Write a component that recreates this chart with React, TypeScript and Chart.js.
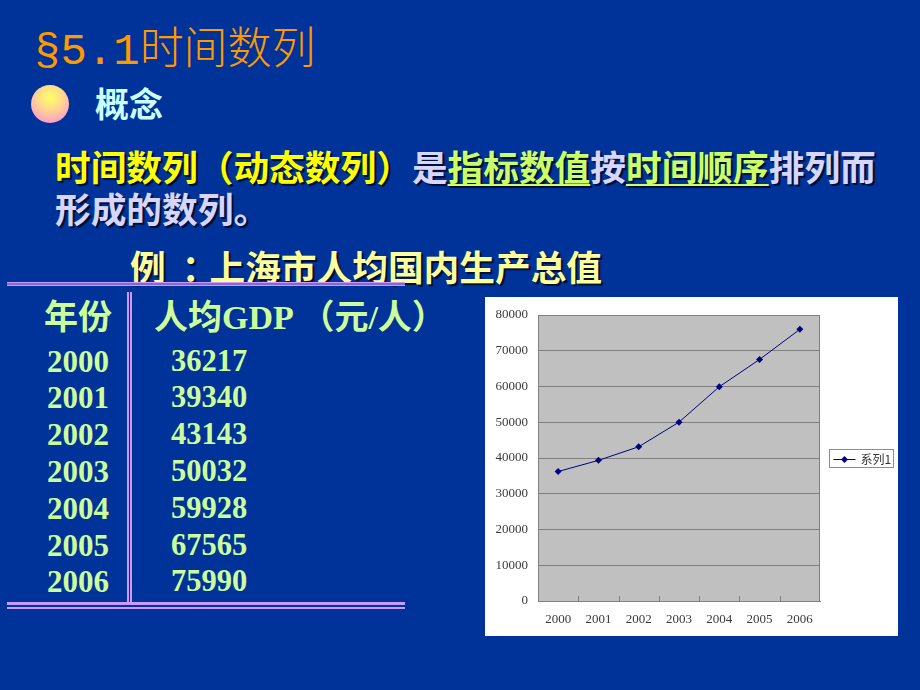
import React, { useEffect, useRef } from "react";
import { Chart, registerables } from "chart.js";

Chart.register(...registerables);

// ---- data ----
const years = ["2000", "2001", "2002", "2003", "2004", "2005", "2006"];
const gdpValues = [36217, 39340, 43143, 50032, 59928, 67565, 75990];
const seriesLabel = "系列1";
const yMin = 0;
const yMax = 80000;
const yStep = 10000;

const CJK = '"Noto Sans CJK SC", "Noto Sans", sans-serif';
const SERIF = '"Liberation Serif", "DejaVu Serif", serif';

const bgPlugin = {
  id: "excelBg",
  beforeDraw(chart: any) {
    const { ctx, chartArea, width, height } = chart;
    ctx.save();
    ctx.fillStyle = "#ffffff";
    ctx.fillRect(0, 0, width, height);
    ctx.fillStyle = "#c0c0c0";
    ctx.fillRect(chartArea.left, chartArea.top, chartArea.right - chartArea.left, chartArea.bottom - chartArea.top);
    ctx.restore();
  },
  beforeDatasetsDraw(chart: any) {
    const { ctx, chartArea } = chart;
    const xs = chart.scales.x;
    ctx.save();
    ctx.strokeStyle = "#808080";
    ctx.lineWidth = 1;
    ctx.strokeRect(chartArea.left + 0.5, chartArea.top + 0.5, chartArea.right - chartArea.left - 1, chartArea.bottom - chartArea.top);
    for (let i = 0; i < years.length - 1; i++) {
      const x = Math.round((xs.getPixelForValue(i) + xs.getPixelForValue(i + 1)) / 2) + 0.5;
      ctx.beginPath();
      ctx.moveTo(x, chartArea.bottom);
      ctx.lineTo(x, chartArea.bottom - 5);
      ctx.stroke();
    }
    ctx.restore();
  },
};

const legendPlugin = {
  id: "excelLegend",
  afterDraw(chart: any) {
    const { ctx } = chart;
    const ds = chart.data.datasets[0];
    const bx = 344.5, by = 152.5, bw = 64, bh = 18;
    ctx.save();
    ctx.strokeStyle = "#8c8c8c";
    ctx.lineWidth = 1;
    ctx.strokeRect(bx, by, bw, bh);
    const ly = by + bh / 2 + 1;
    ctx.strokeStyle = ds.borderColor;
    ctx.beginPath();
    ctx.moveTo(bx + 4, ly);
    ctx.lineTo(bx + 26, ly);
    ctx.stroke();
    ctx.fillStyle = ds.borderColor;
    const mx = bx + 15, r = 3.5;
    ctx.beginPath();
    ctx.moveTo(mx, ly - r);
    ctx.lineTo(mx + r, ly);
    ctx.lineTo(mx, ly + r);
    ctx.lineTo(mx - r, ly);
    ctx.closePath();
    ctx.fill();
    ctx.fillStyle = "#333333";
    ctx.font = `12px ${CJK}`;
    ctx.textBaseline = "middle";
    ctx.fillText(ds.label, bx + 31, ly - 0.5);
    ctx.restore();
  },
};

function GdpChart() {
  const ref = useRef<HTMLCanvasElement | null>(null);
  useEffect(() => {
    if (!ref.current) return;
    const tickFont = { family: SERIF, size: 13 };
    const chart = new Chart(ref.current, {
      type: "line",
      data: {
        labels: years,
        datasets: [
          {
            label: seriesLabel,
            data: gdpValues,
            borderColor: "#000080",
            backgroundColor: "#000080",
            borderWidth: 1,
            pointStyle: "rectRot",
            pointRadius: 3.5,
            pointBackgroundColor: "#000080",
            pointBorderColor: "#000080",
            pointBorderWidth: 0,
            tension: 0,
          },
        ],
      },
      options: {
        animation: false,
        responsive: false,
        maintainAspectRatio: false,
        layout: { padding: { left: 0, top: 18, right: 78, bottom: 0 } },
        plugins: { legend: { display: false }, tooltip: { enabled: false } },
        scales: {
          x: {
            offset: true,
            grid: { display: false, drawTicks: false },
            border: { display: true, color: "#808080", width: 1 },
            ticks: { font: tickFont, color: "#3a3a3a", padding: 11, maxRotation: 0 },
            afterFit: (s: any) => {
              s.height = 35;
            },
          },
          y: {
            min: yMin,
            max: yMax,
            ticks: {
              stepSize: yStep,
              font: tickFont,
              color: "#3a3a3a",
              padding: 10,
              callback: (v: any) => String(v),
            },
            grid: { color: "#808080", lineWidth: 1, drawTicks: false },
            border: { display: true, color: "#808080", width: 1 },
            afterFit: (s: any) => {
              s.width = 53;
            },
          },
        },
      } as any,
      plugins: [bgPlugin, legendPlugin],
    });
    return () => chart.destroy();
  }, []);
  return (
    <div style={{ position: "absolute", left: 485, top: 297, width: 413, height: 339, background: "#fff" }}>
      <canvas ref={ref} width={413} height={339} style={{ display: "block", width: 413, height: 339 }} />
    </div>
  );
}

const shadow = "2px 2px 1px rgba(0,0,20,0.75)";
const lav = "#d6d6ff";
const green = "#ccff66";
const tableColor = "#ccff99";

export default function App() {
  const abs = (left: number, top: number, extra: any = {}) => ({
    position: "absolute" as const,
    left,
    top,
    whiteSpace: "nowrap" as const,
    ...extra,
  });
  const rowTop = (i: number) => 361 + i * 36.8 - 15.5;
  return (
    <div
      style={{
        position: "absolute",
        left: 0,
        top: 0,
        width: 920,
        height: 690,
        background: "#003399",
        overflow: "hidden",
        fontFamily: CJK,
      }}
    >
      {/* title */}
      <div style={abs(34, 23, { fontSize: 44, lineHeight: "44px", color: "#ff9900", fontWeight: 300 })}>
        <span style={{ fontFamily: '"Liberation Mono", monospace' }}>§5.1</span>时间数列
      </div>
      {/* bullet */}
      <div
        style={abs(31, 85, {
          width: 38,
          height: 38,
          borderRadius: "50%",
          background: "radial-gradient(circle at 50% 32%, #ffff66 0%, #ffdd88 35%, #ff99cc 85%, #ee88cc 100%)",
        })}
      />
      <div style={abs(95, 86, { fontSize: 34, lineHeight: "34px", color: "#ccffff", fontWeight: 700 })}>概念</div>

      {/* definition */}
      <div style={abs(55, 148, { fontSize: 35.7, lineHeight: "35.7px", fontWeight: 700, textShadow: shadow })}>
        <span style={{ color: "#ffff00" }}>时间数列（动态数列）</span>
        <span style={{ color: lav }}>是</span>
        <span style={{ color: green, textDecoration: "underline", textUnderlineOffset: "3px", textDecorationThickness: "2px" }}>指标数值</span>
        <span style={{ color: lav }}>按</span>
        <span style={{ color: green, textDecoration: "underline", textUnderlineOffset: "3px", textDecorationThickness: "2px" }}>时间顺序</span>
        <span style={{ color: lav }}>排列而</span>
      </div>
      <div style={abs(55, 190, { fontSize: 35.7, lineHeight: "35.7px", fontWeight: 700, color: lav, textShadow: shadow })}>
        形成的数列。
      </div>
      <div style={abs(130, 248, { fontSize: 35.7, lineHeight: "35.7px", fontWeight: 700, color: "#ffff99", textShadow: shadow })}>
        例 <span style={{ position: "relative", left: 8 }}>：</span>上海市人均国内生产总值
      </div>

      {/* table rules */}
      <div style={abs(7, 282, { width: 398, height: 1, background: "#cc99ff" })} />
      <div style={abs(7, 283, { width: 398, height: 2, background: "#8866dd" })} />
      <div style={abs(7, 285, { width: 398, height: 1, background: "#cc99ff" })} />
      <div style={abs(127, 292, { width: 1.5, height: 313, background: "#cc99ff" })} />
      <div style={abs(130, 292, { width: 1.5, height: 313, background: "#cc99ff" })} />
      <div style={abs(7, 602, { width: 398, height: 3, background: "#cc99ff" })} />
      <div style={abs(7, 607, { width: 398, height: 1.5, background: "#cc99ff" })} />

      {/* table header */}
      <div style={abs(44, 298, { fontSize: 34, lineHeight: "34px", fontWeight: 700, color: tableColor })}>年份</div>
      <div style={abs(154, 298, { fontSize: 34, lineHeight: "34px", fontWeight: 700, color: tableColor })}>
        人均<span style={{ fontFamily: SERIF }}>GDP </span>（元<span style={{ fontFamily: SERIF }}>/</span>人）
      </div>
      {years.map((y, i) => (
        <div
          key={y}
          style={abs(47, rowTop(i), { fontFamily: SERIF, fontSize: 31, lineHeight: "31px", fontWeight: 700, color: tableColor })}
        >
          {y}
        </div>
      ))}
      {gdpValues.map((v, i) => (
        <div
          key={i}
          style={abs(171, rowTop(i), { fontFamily: SERIF, fontSize: 30.5, lineHeight: "31px", fontWeight: 700, color: tableColor })}
        >
          {String(v)}
        </div>
      ))}

      <GdpChart />
    </div>
  );
}
